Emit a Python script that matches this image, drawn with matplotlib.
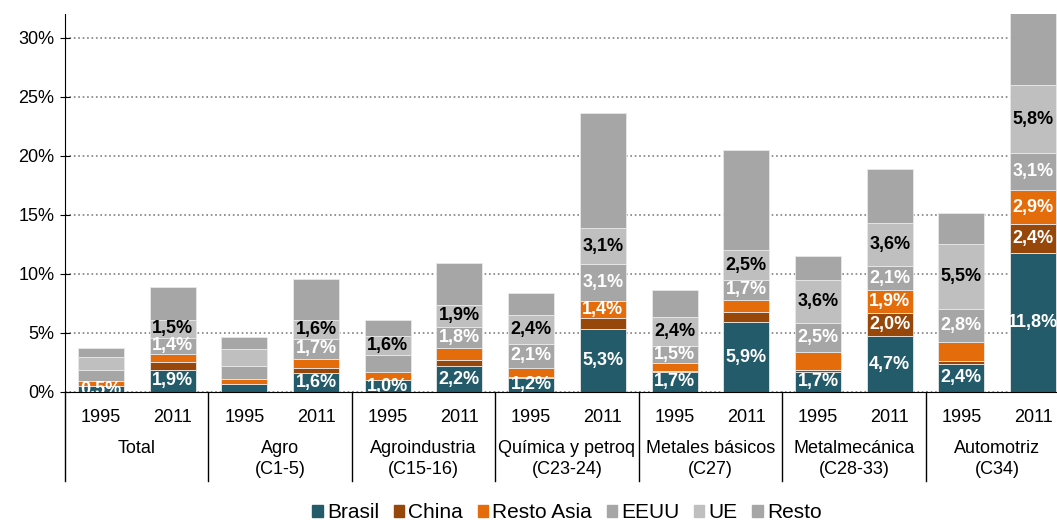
import numpy as np
import matplotlib.pyplot as plt
from matplotlib.patches import Patch
from matplotlib.ticker import FuncFormatter

plt.rcParams['font.family'] = ['Liberation Sans', 'DejaVu Sans']

sectores = ["Total", "Agro\n(C1-5)", "Agroindustria\n(C15-16)", "Química y petroq\n(C23-24)",
            "Metales básicos\n(C27)", "Metalmecánica\n(C28-33)", "Automotriz\n(C34)"]
anios = ["1995", "2011"]

# valores en % (pares 1995, 2011 por sector)
brasil = [0.5, 1.9, 0.65, 1.6, 1.0, 2.2, 1.2, 5.3, 1.7, 5.9, 1.7, 4.7, 2.4, 11.8]
china = [0.05, 0.6, 0.05, 0.45, 0.05, 0.55, 0.1, 1.0, 0.05, 0.85, 0.15, 2.0, 0.2, 2.4]
resto_asia = [0.4, 0.7, 0.4, 0.75, 0.65, 0.95, 0.7, 1.4, 0.68, 1.05, 1.5, 1.9, 1.64, 2.9]
eeuu = [0.9, 1.4, 1.1, 1.7, 1.4, 1.8, 2.1, 3.1, 1.5, 1.7, 2.5, 2.1, 2.8, 3.1]
ue = [1.1, 1.5, 1.45, 1.6, 1.6, 1.9, 2.4, 3.1, 2.4, 2.5, 3.6, 3.6, 5.5, 5.8]
resto = [0.75, 2.8, 1.0, 3.5, 1.4, 3.55, 1.9, 9.75, 2.3, 8.5, 2.03, 4.6, 2.6, 6.2]

# barras con etiqueta visible
etq_brasil = [0, 1, 3, 4, 5, 6, 7, 8, 9, 10, 11, 12, 13]
etq_china = [11, 13]
etq_resto_asia = [7, 11, 13]
etq_eeuu = [1, 3, 5, 6, 7, 8, 9, 10, 11, 12, 13]
etq_ue = [1, 3, 4, 5, 6, 7, 8, 9, 10, 11, 12, 13]

series = [
    ("Brasil", brasil, '#235B6A', 'white', etq_brasil),
    ("China", china, '#974709', 'white', etq_china),
    ("Resto Asia", resto_asia, '#E46C0A', 'white', etq_resto_asia),
    ("EEUU", eeuu, '#A6A6A6', 'white', etq_eeuu),
    ("UE", ue, '#BFBFBF', 'black', etq_ue),
    ("Resto", resto, '#A6A6A6', 'white', []),
]

fig = plt.figure(figsize=(10.57, 5.25), dpi=100)
ax = fig.add_axes([65/1057, 1 - 392/525, 1004/1057, 378/525])

x = np.arange(len(brasil))
fondo = np.zeros(len(brasil))
for nombre, vals, color, col_txt, etiquetas in series:
    vals = np.array(vals) / 100
    ax.bar(x, vals, 0.64, bottom=fondo, color=color, edgecolor='#E8E8E8', linewidth=0.6, zorder=2)
    for i in etiquetas:
        txt = f"{vals[i]*100:.1f}%".replace('.', ',')
        t = ax.text(x[i], fondo[i] + vals[i] / 2, txt, ha='center', va='center', color=col_txt,
                    fontsize=13, fontweight='bold', zorder=3)
        t.set_clip_on(True)
    fondo += vals

ax.set_xlim(-0.5, 13.5)
ax.set_ylim(0, 0.32)
ax.set_yticks(np.arange(0, 0.31, 0.05))
ax.yaxis.set_major_formatter(FuncFormatter(lambda v, p: f"{v*100:.0f}%"))
ax.yaxis.grid(True, linestyle=':', color='#808080', linewidth=1.2, zorder=0)
ax.set_axisbelow(True)
for s in ['top', 'right']:
    ax.spines[s].set_visible(False)
ax.tick_params(axis='y', labelsize=13, length=7, direction='inout', pad=4)
ax.set_xticks(x)
ax.set_xticklabels(anios * len(sectores), fontsize=13)
ax.tick_params(axis='x', length=0, pad=12)

trans = ax.get_xaxis_transform()
for k, nombre in enumerate(sectores):
    ax.text(2 * k + 0.5, -0.128, nombre, transform=trans, ha='center', va='top',
            fontsize=13, linespacing=1.25)
for k in range(len(sectores)):
    ax.plot([2 * k - 0.5, 2 * k - 0.5], [0, -0.235], transform=trans, color='black',
            linewidth=1, clip_on=False)

handles = [Patch(color=c, label=n) for n, v, c, t, e in series]
ax.legend(handles=handles, loc='center', bbox_to_anchor=(0.5, -0.32), ncol=6, frameon=False,
          fontsize=15, handlelength=0.5, handleheight=0.5, handletextpad=0.2, columnspacing=0.7,
          borderpad=0.1)

fig.savefig('out.png', dpi=100)
